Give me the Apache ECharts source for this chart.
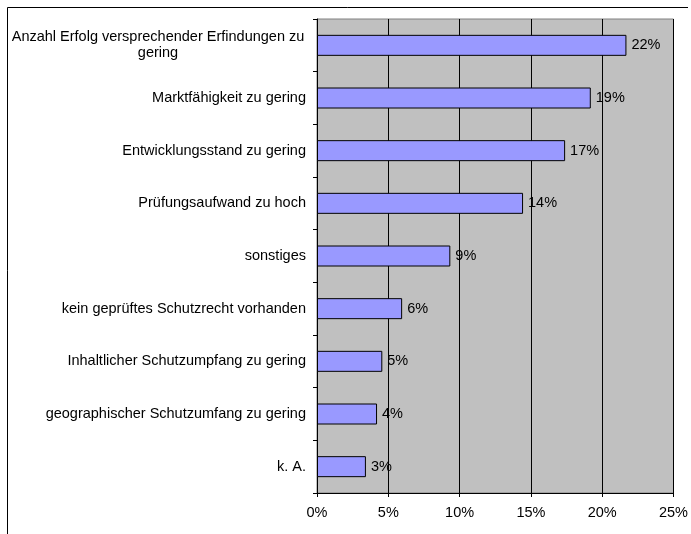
<!DOCTYPE html>
<html>
<head>
<meta charset="utf-8">
<script src="https://cdn.jsdelivr.net/npm/echarts@6/dist/echarts.min.js"></script>
<style>
  html, body { margin: 0; padding: 0; background: #fff; }
  #chart { width: 691px; height: 534px; }
</style>
</head>
<body>
<div id="chart"></div>
<script>
// categories, top to bottom
const categories = [
    'Anzahl Erfolg versprechender Erfindungen zu\ngering',
    'Marktfähigkeit zu gering',
    'Entwicklungsstand zu gering',
    'Prüfungsaufwand zu hoch',
    'sonstiges',
    'kein geprüftes Schutzrecht vorhanden',
    'Inhaltlicher Schutzumpfang zu gering',
    'geographischer Schutzumfang zu gering',
    'k. A.'
];
// share in percent
const shares = [21.7, 19.2, 17.4, 14.45, 9.35, 5.97, 4.58, 4.21, 3.43];

const FONT = 'Arial, "Liberation Sans", sans-serif';
const FS = 14.5;

const chart = echarts.init(document.getElementById('chart'), null, { renderer: 'canvas' });

chart.setOption({
    animation: false,
    backgroundColor: '#fff',
    textStyle: { fontFamily: FONT },
    graphic: [
        // outer frame (top and left edges only visible)
        { type: 'line', shape: { x1: 7.5, y1: 7.5, x2: 688, y2: 7.5 }, style: { stroke: '#000', lineWidth: 1 } },
        { type: 'line', shape: { x1: 7.5, y1: 7.5, x2: 7.5, y2: 534 }, style: { stroke: '#000', lineWidth: 1 } }
    ],
    grid: {
        left: 317,
        right: 14,
        top: 19,
        bottom: 41,
        show: true,
        backgroundColor: '#C0C0C0',
        borderColor: '#808080',
        borderWidth: 1
    },
    xAxis: {
        type: 'value',
        min: 0,
        max: 25,
        interval: 5,
        axisLine: { show: true, lineStyle: { color: '#000', width: 1 } },
        axisTick: { show: true, length: 4, lineStyle: { color: '#000' } },
        splitLine: { show: true, lineStyle: { color: '#000', width: 1 } },
        axisLabel: {
            formatter: (v) => v + '%',
            color: '#000',
            fontSize: FS,
            fontFamily: FONT,
            margin: 12
        }
    },
    yAxis: {
        type: 'category',
        data: categories,
        inverse: true,
        axisLine: { show: true, lineStyle: { color: '#000', width: 1 } },
        axisTick: { show: true, length: 4, lineStyle: { color: '#000' } },
        splitLine: { show: false },
        axisLabel: {
            color: '#000',
            fontSize: FS,
            fontFamily: FONT,
            margin: 11,
            lineHeight: 16,
            formatter: (v) => {
                if (v.indexOf('\n') >= 0) {
                    return v.split('\n').map((s) => '{c|' + s + '}').join('\n');
                }
                return v;
            },
            rich: {
                c: { width: 296, align: 'center', fontSize: FS, fontFamily: FONT, color: '#000', lineHeight: 16 }
            }
        }
    },
    series: [{
        type: 'bar',
        data: shares,
        barWidth: 21,
        itemStyle: { color: '#9999FF', borderColor: '#000', borderWidth: 1 },
        label: {
            show: true,
            position: 'right',
            distance: 5,
            formatter: (p) => Math.round(p.value) + '%',
            color: '#000',
            fontSize: FS,
            fontFamily: FONT
        }
    }]
});
</script>
</body>
</html>
